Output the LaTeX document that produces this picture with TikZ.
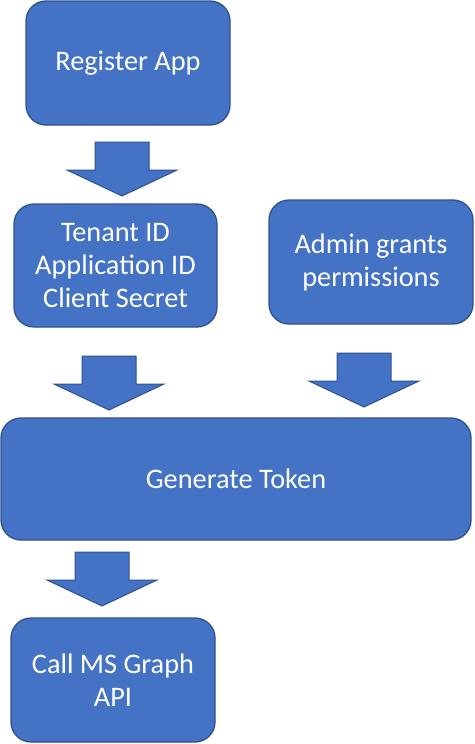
\documentclass[tikz,border=0pt]{standalone}
\usepackage{fontspec}
\setmainfont{Carlito}
\usetikzlibrary{calc}
\definecolor{boxblue}{HTML}{4472C4}
\definecolor{boxedge}{HTML}{2F528F}
\tikzset{
  flowbox/.style={draw=boxedge, line width=1.3pt, fill=boxblue, rounded corners=20pt,
    text=white, align=center, font=\fontsize{28.3}{33}\selectfont, inner sep=0pt},
  blockarrow/.style={draw=boxedge, line width=1pt, fill=boxblue}
}
\def\blockarrow(#1){\draw[blockarrow] ($(#1)+(-27,-54)$) -- ($(#1)+(27,-54)$) -- ($(#1)+(27,-26)$) -- ($(#1)+(55,-26)$) -- (#1) -- ($(#1)+(-55,-26)$) -- ($(#1)+(-27,-26)$) -- cycle;}

\begin{document}
\begin{tikzpicture}[x=1pt,y=-1pt]
			%%%%% START %%%%%
			\useasboundingbox (0,0) rectangle (474,744);
			
			\node[flowbox, minimum width=204pt, minimum height=124pt] (register) at (128, 63) {Register App};
			\node[flowbox, minimum width=203pt, minimum height=123pt] (tenant) at (115.5, 265.5) {Tenant ID\\Application ID\\Client Secret};
			\node[flowbox, minimum width=204pt, minimum height=124pt] (admin) at (371, 262) {Admin grants\\permissions};
			\node[flowbox, minimum width=470pt, minimum height=122pt] (token) at (236, 479) {Generate Token};
			\node[flowbox, minimum width=204pt, minimum height=124pt] (call) at (113, 680) {Call MS Graph\\API};
			
			% arrow tips
			\coordinate (regtip) at (122, 196);
			\coordinate (tenanttip) at (109, 410);
			\coordinate (admintip) at (364, 407);
			\coordinate (tokentip) at (102, 606);
			
			\blockarrow(regtip)
			\blockarrow(tenanttip)
			\blockarrow(admintip)
			\blockarrow(tokentip)
			
			%%%%% END %%%%%
\end{tikzpicture}
\end{document}
